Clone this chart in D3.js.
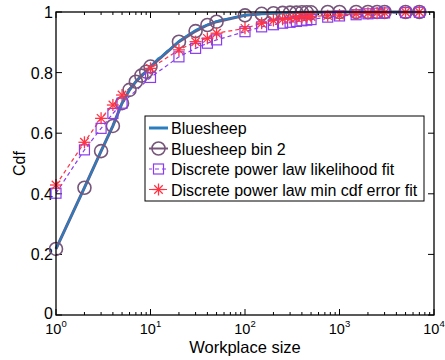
<!DOCTYPE html>
<html>
<head>
<meta charset="utf-8">
<script src="https://cdn.jsdelivr.net/npm/d3@7"></script>
<style>
  body { margin: 0; background: #fff; }
  svg { display: block; font-family: "Liberation Sans", Arial, Helvetica, sans-serif; }
</style>
</head>
<body>
<svg id="chart" width="445" height="360"></svg>
<script>
// Workplace size distribution: empirical CDF and two discrete power-law fits
const rawX = [1,2,3,4,5,6,7,8,9,10,11,12,13,14,15,16,17,18,19,20,25,30,35,40,45,50,60,70,80,90,100,150,200,300,500,1000,2000,5000,7000];
const rawY = [0.218,0.42,0.541,0.624,0.699,0.743,0.77,0.79,0.803,0.82,0.833,0.846,0.852,0.862,0.871,0.876,0.885,0.892,0.898,0.904,0.925,0.94,0.951,0.958,0.964,0.97,0.975,0.979,0.983,0.986,0.989,0.993,0.996,0.998,0.999,1,1,1,1];

const binX = [1,2,3,4,5,6,7,8,9,10,20,30,40,50,100,150,200,250,300,350,400,450,500,750,1000,1500,2000,2500,3000,5000,7000];
const binY = [0.218,0.42,0.541,0.624,0.699,0.743,0.77,0.79,0.803,0.82,0.902,0.937,0.957,0.968,0.989,0.994,0.996,0.997,0.998,0.998,0.999,0.999,0.999,1,1,1,1,1,1,1,1];

const fitX = [1,2,3,4,5,10,20,30,40,50,100,150,200,250,300,350,400,450,500,750,1000,1500,2000,2500,3000,5000,7000];
const likY = [0.402,0.545,0.616,0.665,0.699,0.784,0.852,0.88,0.897,0.908,0.935,0.951,0.958,0.963,0.966,0.969,0.971,0.973,0.975,0.983,0.987,0.991,0.994,0.996,0.997,0.998,0.999];
const cdfY = [0.429,0.57,0.649,0.693,0.726,0.814,0.875,0.902,0.913,0.93,0.946,0.963,0.972,0.976,0.979,0.981,0.983,0.984,0.985,0.988,0.99,0.994,0.996,0.997,0.998,0.999,1.0];

const xTickExp = [0,1,2,3,4];
const yTicks = [0,0.2,0.4,0.6,0.8,1];
const yTickLabels = ["0","0.2","0.4","0.6","0.8","1"];
const legendLabels = ["Bluesheep","Bluesheep bin 2","Discrete power law likelihood fit","Discrete power law min cdf error fit"];

const colBlue = "#2a7dbf", colBin = "#76557a", colLik = "#8a3cf0", colCdf = "#ff3344";

const svg = d3.select("#chart");
const L = 56, R = 434, T = 12, B = 315;
const x = d3.scaleLog().domain([1, 1e4]).range([L, R]);
const y = d3.scaleLinear().domain([0, 1]).range([B, T]);

// minor log ticks on bottom and top
const minor = [];
for (let e = 0; e < 4; e++) for (let m = 2; m <= 9; m++) minor.push(m * Math.pow(10, e));
const g = svg.append("g");
minor.forEach(v => {
  g.append("line").attr("x1", x(v)).attr("x2", x(v)).attr("y1", B).attr("y2", B - 3).attr("stroke", "#000");
  g.append("line").attr("x1", x(v)).attr("x2", x(v)).attr("y1", T).attr("y2", T + 3).attr("stroke", "#000");
});
xTickExp.forEach(e => {
  const v = Math.pow(10, e);
  g.append("line").attr("x1", x(v)).attr("x2", x(v)).attr("y1", B).attr("y2", B - 6).attr("stroke", "#000");
  g.append("line").attr("x1", x(v)).attr("x2", x(v)).attr("y1", T).attr("y2", T + 6).attr("stroke", "#000");
  const t = g.append("text").attr("x", x(v)).attr("y", B + 19).attr("text-anchor", "middle").attr("font-size", 14.5);
  t.append("tspan").text("10");
  t.append("tspan").attr("dy", -7).attr("font-size", 9.5).text(e);
});
yTicks.forEach((v, i) => {
  g.append("line").attr("x1", L).attr("x2", L + 6).attr("y1", y(v)).attr("y2", y(v)).attr("stroke", "#000");
  g.append("line").attr("x1", R).attr("x2", R - 6).attr("y1", y(v)).attr("y2", y(v)).attr("stroke", "#000");
  g.append("text").attr("x", L - 3).attr("y", y(v) + (i === 0 ? 4 : 6)).attr("text-anchor", "end").attr("font-size", 16).text(yTickLabels[i]);
});

svg.append("text").attr("x", (L + R) / 2).attr("y", 353).attr("text-anchor", "middle").attr("font-size", 16.5).text("Workplace size");
svg.append("text").attr("transform", `translate(25,${(T + B) / 2}) rotate(-90)`).attr("text-anchor", "middle").attr("font-size", 16).text("Cdf");

const line = d3.line().x(d => x(d[0])).y(d => y(d[1]));
const zip = (a, b) => a.map((v, i) => [v, b[i]]);

const plot = svg.append("g");
// fitted curves (dashed)
plot.append("path").attr("d", line(zip(fitX, likY))).attr("fill", "none").attr("stroke", colLik).attr("stroke-width", 1.2).attr("stroke-dasharray", "4,3");
plot.append("path").attr("d", line(zip(fitX, cdfY))).attr("fill", "none").attr("stroke", colCdf).attr("stroke-width", 1.2).attr("stroke-dasharray", "4,3");
// binned empirical line, then raw empirical line
plot.append("path").attr("d", line(zip(binX, binY))).attr("fill", "none").attr("stroke", colBin).attr("stroke-width", 3);
plot.append("path").attr("d", line(zip(rawX, rawY))).attr("fill", "none").attr("stroke", colBlue).attr("stroke-width", 2);

function square(sel, cx, cy, c) {
  sel.append("rect").attr("x", cx - 5).attr("y", cy - 5).attr("width", 10).attr("height", 10).attr("fill", "none").attr("stroke", c).attr("stroke-width", 1.2);
}
function star(sel, cx, cy, c) {
  const r = 6, d = r * 0.7071;
  [[0, r], [r, 0], [d, d], [d, -d]].forEach(([dx, dy]) => {
    sel.append("line").attr("x1", cx - dx).attr("y1", cy - dy).attr("x2", cx + dx).attr("y2", cy + dy).attr("stroke", c).attr("stroke-width", 1.3);
  });
}
function circle(sel, cx, cy, c) {
  sel.append("circle").attr("cx", cx).attr("cy", cy).attr("r", 6.5).attr("fill", "none").attr("stroke", c).attr("stroke-width", 1.6);
}

binX.forEach((v, i) => circle(plot, x(v), y(binY[i]), colBin));
fitX.forEach((v, i) => square(plot, x(v), y(likY[i]), colLik));
fitX.forEach((v, i) => star(plot, x(v), y(cdfY[i]), colCdf));

// axes box
svg.append("rect").attr("x", L).attr("y", T).attr("width", R - L).attr("height", B - T).attr("fill", "none").attr("stroke", "#000").attr("stroke-width", 1.3);

// legend
const lg = svg.append("g");
lg.append("rect").attr("x", 145).attr("y", 116).attr("width", 279).attr("height", 85).attr("fill", "#fff").attr("stroke", "#000").attr("stroke-width", 1);
const ly = [128, 148.5, 169, 189.5];
const lx1 = 149, lx2 = 168, lxm = 158.5;
lg.append("line").attr("x1", lx1).attr("x2", lx2).attr("y1", ly[0]).attr("y2", ly[0]).attr("stroke", colBlue).attr("stroke-width", 3);
lg.append("line").attr("x1", lx1).attr("x2", lx2).attr("y1", ly[1]).attr("y2", ly[1]).attr("stroke", colBin).attr("stroke-width", 2);
circle(lg, lxm, ly[1], colBin);
lg.append("line").attr("x1", lx1).attr("x2", lx2).attr("y1", ly[2]).attr("y2", ly[2]).attr("stroke", colLik).attr("stroke-width", 1.2).attr("stroke-dasharray", "4,3").attr("stroke-dashoffset", 1);
square(lg, lxm, ly[2], colLik);
lg.append("line").attr("x1", lx1).attr("x2", lx2).attr("y1", ly[3]).attr("y2", ly[3]).attr("stroke", colCdf).attr("stroke-width", 1.2).attr("stroke-dasharray", "4,3");
star(lg, lxm, ly[3], colCdf);
legendLabels.forEach((t, i) => {
  lg.append("text").attr("x", 171).attr("y", ly[i] + 6).attr("font-size", 16).text(t);
});
</script>
</body>
</html>
